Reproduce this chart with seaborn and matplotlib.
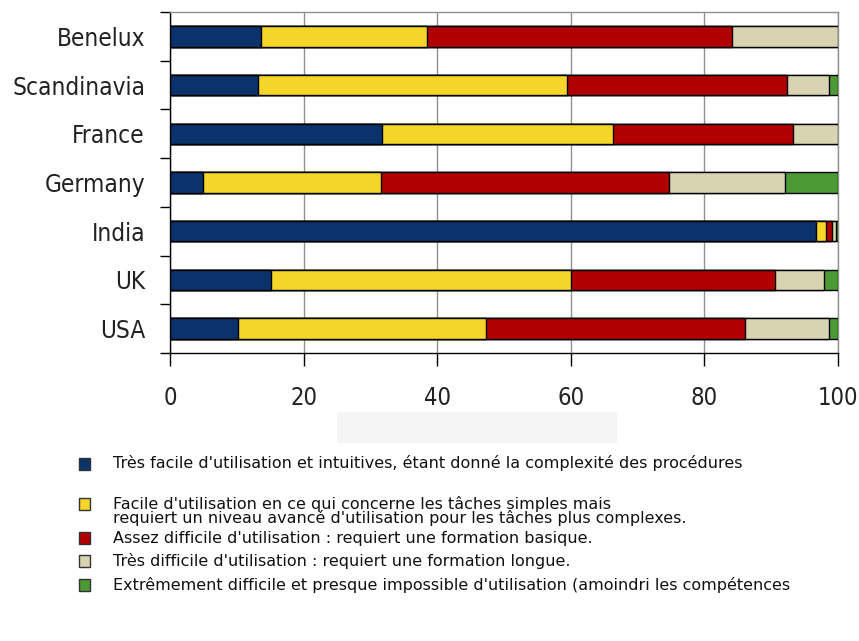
import matplotlib
matplotlib.use("Agg")
import matplotlib.pyplot as plt
from matplotlib.patches import Rectangle
import seaborn as sns
import pandas as pd

# Data (percent of answers per country)
countries = ['Benelux', 'Scandinavia', 'France', 'Germany', 'India', 'UK', 'USA']
tres_facile = [13.6, 13.1, 31.8, 4.9, 96.7, 15.1, 10.2]
facile = [24.9, 46.3, 34.5, 26.7, 1.5, 44.9, 37.1]
assez_difficile = [45.6, 33.0, 26.9, 43.1, 0.9, 30.6, 38.8]
tres_difficile = [15.9, 6.2, 6.8, 17.3, 0.6, 7.3, 12.6]
extremement = [0.0, 1.4, 0.0, 8.0, 0.3, 2.1, 1.3]

labels = [
    "Très facile d'utilisation et intuitives, étant donné la complexité des procédures",
    "Facile d'utilisation en ce qui concerne les tâches simples mais\n"
    "requiert un niveau avancé d'utilisation pour les tâches plus complexes.",
    "Assez difficile d'utilisation : requiert une formation basique.",
    "Très difficile d'utilisation : requiert une formation longue.",
    "Extrêmement difficile et presque impossible d'utilisation (amoindri les compétences",
]
colors = ['#0b336b', '#f5d52a', '#b00000', '#d8d3b0', '#4b9a34']

series = [tres_facile, facile, assez_difficile, tres_difficile, extremement]
df = pd.DataFrame({f's{i}': s for i, s in enumerate(series)}, index=countries)
cum = df.cumsum(axis=1)
cum['country'] = countries

sns.set_style('white')
plt.rcParams['font.family'] = ['DejaVu Sans']

fig = plt.figure(figsize=(8.59, 6.41), dpi=100)
W, H = 859, 641
ax = fig.add_axes([170 / W, 1 - 353 / H, 668 / W, 341 / H])

# stacked bars: draw cumulative totals from the widest down
for i in reversed(range(len(series))):
    sns.barplot(data=cum, x=f's{i}', y='country', color=colors[i], orient='h',
                width=0.42, edgecolor='black', linewidth=1, saturation=1, ax=ax,
                zorder=3)

ax.set_xlim(0, 100)
ax.set_ylim(6.5, -0.5)
ax.set_xlabel('')
ax.set_ylabel('')
ax.set_xticks(range(0, 101, 20))
ax.xaxis.grid(True, color='#909090', linewidth=1)
ax.set_axisbelow(True)

ax.set_yticks(range(len(countries)))
ax.set_yticklabels(countries)
ax.set_yticks([k - 0.5 for k in range(len(countries) + 1)], minor=True)
ax.tick_params(axis='y', which='major', length=0, pad=18, labelsize=17.5)
ax.tick_params(axis='y', which='minor', length=7, width=1, color='black', left=True)
ax.tick_params(axis='x', length=9, width=1, color='black', bottom=True, pad=15,
               labelsize=17)
for t in ax.get_yticklabels() + ax.get_xticklabels():
    t.set_fontstretch('condensed')
    t.set_color('#222222')

for side in ['left', 'bottom']:
    ax.spines[side].set_color('black')
    ax.spines[side].set_linewidth(1)
for side in ['top', 'right']:
    ax.spines[side].set_color('#909090')
    ax.spines[side].set_linewidth(1)

# faint band under the axis labels
fig.add_artist(Rectangle((337 / W, 1 - 443 / H), 280 / W, 31 / H,
                         transform=fig.transFigure, facecolor='#f5f5f5',
                         edgecolor='none', zorder=0))

# legend
marker_y = [464, 504, 538, 561, 585]
text_y = [463, 511, 538, 561, 585]
for lab, col, my, ty in zip(labels, colors, marker_y, text_y):
    fig.add_artist(Rectangle((79 / W, 1 - (my + 6) / H), 11 / W, 12 / H,
                             transform=fig.transFigure, facecolor=col,
                             edgecolor='#333333', linewidth=1))
    fig.text(113 / W, 1 - ty / H, lab, va='center', ha='left', fontsize=11.5,
             family=['DejaVu Sans'], color='#111111', linespacing=0.86)

fig.savefig('out.png', dpi=100)
